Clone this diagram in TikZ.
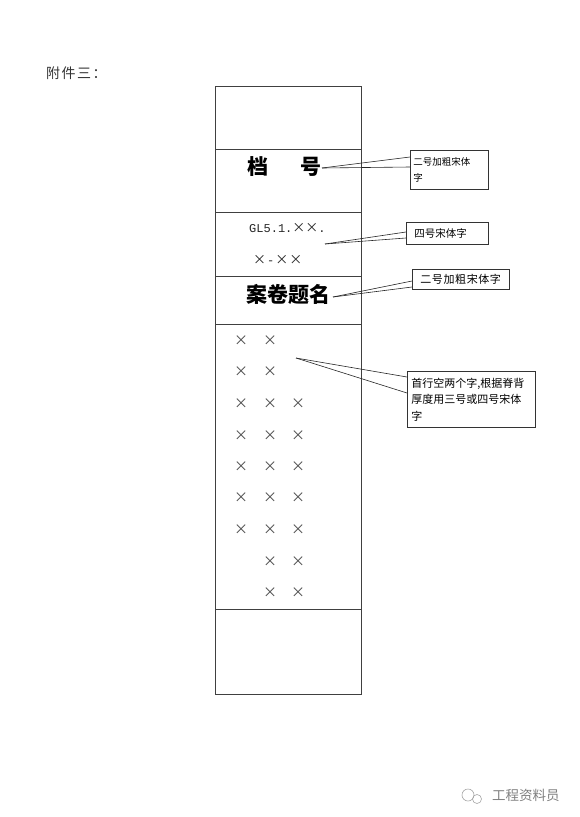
\documentclass[tikz,border=0pt]{standalone}
\usepackage{fontspec}
\setmainfont{Noto Sans CJK SC}
\newfontfamily\latmono{Liberation Mono}
\usetikzlibrary{calc}
\begin{document}
\begin{tikzpicture}[x=1pt,y=-1pt,
  colline/.style={draw=black!75,line width=0.8pt},
  callbox/.style={draw=black!80,line width=0.7pt,fill=white,anchor=north west,inner sep=0pt,
    align=left,text width=#1,font=\fontsize{9.5}{16.5}\selectfont},
  wedge/.style={draw=black!85,line width=0.6pt},
  xmark/.style={text=black!70,inner sep=0pt,font=\fontsize{14}{14}\selectfont},
  bigbold/.style={inner sep=0pt,font=\fontsize{21}{21}\selectfont\bfseries},
  code/.style={inner sep=0pt,text=black!85,font=\fontsize{13}{13}\selectfont}]
\useasboundingbox (0,0) rectangle (580,817);
\fill[white] (0,0) rectangle (580,817);
% heading
\node[inner sep=0pt,anchor=west,text=black!80,font=\fontsize{14}{14}\selectfont] (head) at (46,73) {附\hspace{1.5pt}件\hspace{1.5pt}三\hspace{1.5pt}：};
% column
\node[colline,anchor=north west,minimum width=146,minimum height=608,inner sep=0pt] (col) at (215,86) {};
\foreach \yy in {149,212,276,324,609} \draw[colline] (215,\yy) -- (361,\yy);
% texts in column
\node[bigbold] (dang) at (258,167) {档};
\node[bigbold] (hao) at (311,167) {号};
\node[code,anchor=west] (gl1) at (249,228) {{\latmono\fontsize{12}{12}\selectfont GL5.1.}××{\latmono\fontsize{12}{12}\selectfont .}};
\node[code,anchor=west] (gl2) at (253,260) {×\hspace{1pt}{\latmono\fontsize{12}{12}\selectfont -}\hspace{1pt}×\hspace{1pt}×};
\node[bigbold] (title) at (288,294) {案卷题名};
% x marks
\foreach \r/\yy in {1/341,2/372}{
  \node[xmark] (xa\r) at (241,\yy) {×};
  \node[xmark] (xb\r) at (270,\yy) {×};}
\foreach \r/\yy in {3/404,4/436,5/467,6/498,7/530}{
  \node[xmark] (xa\r) at (241,\yy) {×};
  \node[xmark] (xb\r) at (270,\yy) {×};
  \node[xmark] (xc\r) at (298,\yy) {×};}
\foreach \r/\yy in {8/562,9/593}{
  \node[xmark] (xb\r) at (270,\yy) {×};
  \node[xmark] (xc\r) at (298,\yy) {×};}
% callout 1
\coordinate (t1) at (322,168);
\draw[wedge] (t1) -- (410,157);
\draw[wedge] (t1) -- (410,167);
\node[callbox=78pt,minimum height=39pt] (b1) at (410,150) {\hspace*{3pt}二号加粗宋体\\\hspace*{3pt}字};
% callout 2
\coordinate (t2) at (325,244);
\draw[wedge] (t2) -- (406,232);
\draw[wedge] (t2) -- (406,238);
\node[callbox=82pt,minimum height=22pt,font=\fontsize{10.5}{10.5}\selectfont] (b2) at (406,222) {\hspace*{8pt}四号宋体字};
% callout 3
\coordinate (t3) at (333,297);
\draw[wedge] (t3) -- (412,281);
\draw[wedge] (t3) -- (412,287);
\node[callbox=97pt,minimum height=20pt,font=\fontsize{11}{11}\selectfont] (b3) at (412,269) {\hspace*{8pt}二\hspace{0.6pt}号\hspace{0.6pt}加\hspace{0.6pt}粗\hspace{0.6pt}宋\hspace{0.6pt}体\hspace{0.6pt}字};
% callout 4
\coordinate (t4) at (296,358);
\draw[wedge] (t4) -- (407,377);
\draw[wedge] (t4) -- (407,393);
\node[callbox=128pt,minimum height=56pt,font=\fontsize{11}{16.5}\selectfont] (b4) at (407,371) {\hspace*{4pt}首行空两个字,根据脊背\\\hspace*{4pt}厚度用三号或四号宋体\\\hspace*{4pt}字};
% watermark
\draw[black!35,line width=0.6pt] (468,795) circle (6);
\draw[black!35,line width=0.6pt] (477,799) circle (4.5);
\node[inner sep=0pt,anchor=west,text=black!50,font=\fontsize{13.5}{13.5}\selectfont] (wm) at (492,795) {工程资料员};
\end{tikzpicture}
\end{document}
